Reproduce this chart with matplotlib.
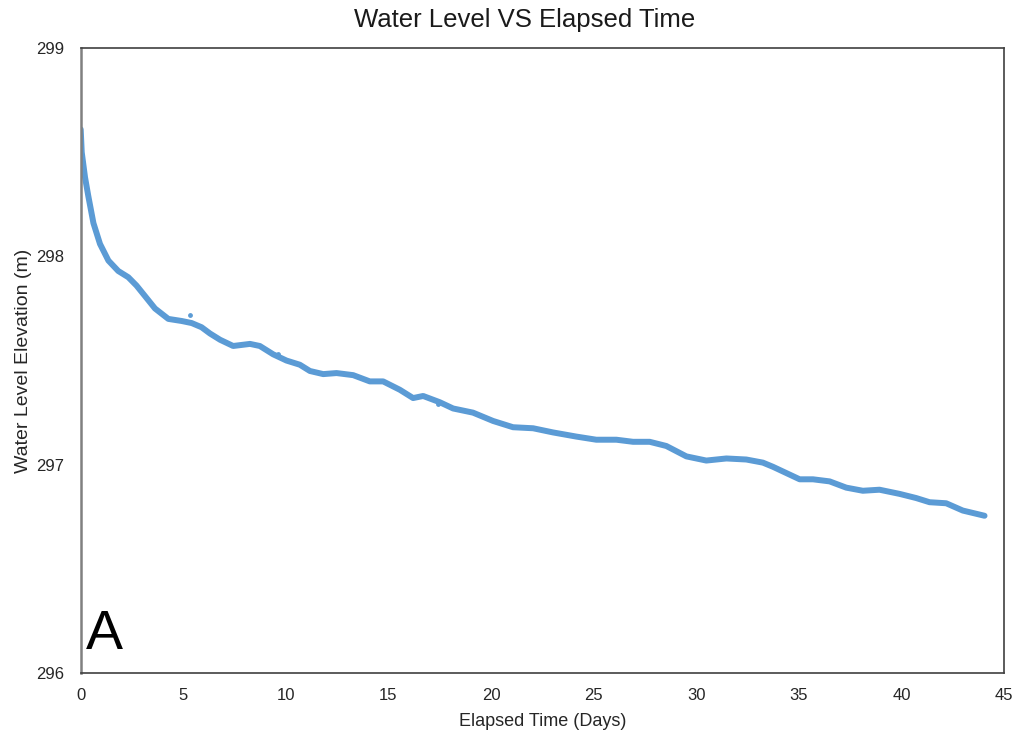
import matplotlib
matplotlib.use('Agg')
import matplotlib.pyplot as plt

# elapsed time (days) and water level (m)
days = [0.00, 0.05, 0.21, 0.37, 0.62, 0.94, 1.35, 1.83, 2.32, 2.72, 3.13, 3.62,
        4.27, 4.92, 5.41, 5.89, 6.30, 6.79, 7.43, 8.25, 8.73, 9.38, 10.03, 10.68,
        11.17, 11.82, 12.47, 13.28, 14.09, 14.74, 15.55, 16.20, 16.69, 17.50,
        18.15, 19.12, 20.10, 21.07, 22.05, 23.02, 24.16, 25.13, 26.11, 26.92,
        27.73, 28.54, 29.52, 30.49, 31.47, 32.44, 33.25, 33.74, 34.39, 35.04,
        35.69, 36.50, 37.31, 38.12, 38.93, 39.91, 40.72, 41.37, 42.18, 42.99, 44.05]
level = [298.61, 298.50, 298.38, 298.29, 298.16, 298.06, 297.98, 297.93, 297.90,
         297.86, 297.81, 297.75, 297.70, 297.69, 297.68, 297.66, 297.63, 297.60,
         297.57, 297.58, 297.57, 297.53, 297.50, 297.48, 297.45, 297.435, 297.44,
         297.43, 297.40, 297.40, 297.36, 297.32, 297.33, 297.30, 297.27, 297.25,
         297.21, 297.18, 297.175, 297.155, 297.135, 297.12, 297.12, 297.11, 297.11,
         297.09, 297.04, 297.02, 297.03, 297.025, 297.01, 296.99, 296.96, 296.93,
         296.93, 296.92, 296.89, 296.875, 296.88, 296.86, 296.84, 296.82, 296.815,
         296.78, 296.755]

# stray readings
out_days = [5.33, 17.4, 9.6]
out_level = [297.72, 297.29, 297.53]

plt.rcParams['font.family'] = ['Liberation Sans', 'DejaVu Sans']

fig = plt.figure(figsize=(10.19, 7.4), dpi=100)
ax = fig.add_axes([0.0792, 0.0905, 0.9061, 0.8445])

ax.plot(days, level, color='#5B9BD5', lw=4.3, solid_capstyle='round')
ax.scatter(out_days, out_level, color='#5B9BD5', s=6, zorder=3)

ax.set_xlim(0, 45)
ax.set_ylim(296, 299)
ax.set_xticks(range(0, 46, 5))
ax.set_yticks([296, 297, 298, 299])
ax.tick_params(axis='both', length=0, labelsize=12, colors='#262626')
ax.tick_params(axis='y', pad=12)
ax.tick_params(axis='x', pad=11)

for s in ax.spines.values():
    s.set_color('#404040')
    s.set_linewidth(1.2)
ax.spines['left'].set_color('#808080')
ax.spines['left'].set_linewidth(1.8)

fig.text(525 / 1019, 1 - 20 / 740, 'Water Level VS Elapsed Time', fontsize=18.5,
         color='#1a1a1a', ha='center', va='center')
ax.set_xlabel('Elapsed Time (Days)', fontsize=13, color='#262626', labelpad=7)
ax.set_ylabel('Water Level Elevation (m)', fontsize=14, color='#262626', labelpad=3)

ax.text(0.006, 0.02, 'A', transform=ax.transAxes, fontsize=40, ha='left', va='bottom')

fig.savefig('out.png', dpi=100)
